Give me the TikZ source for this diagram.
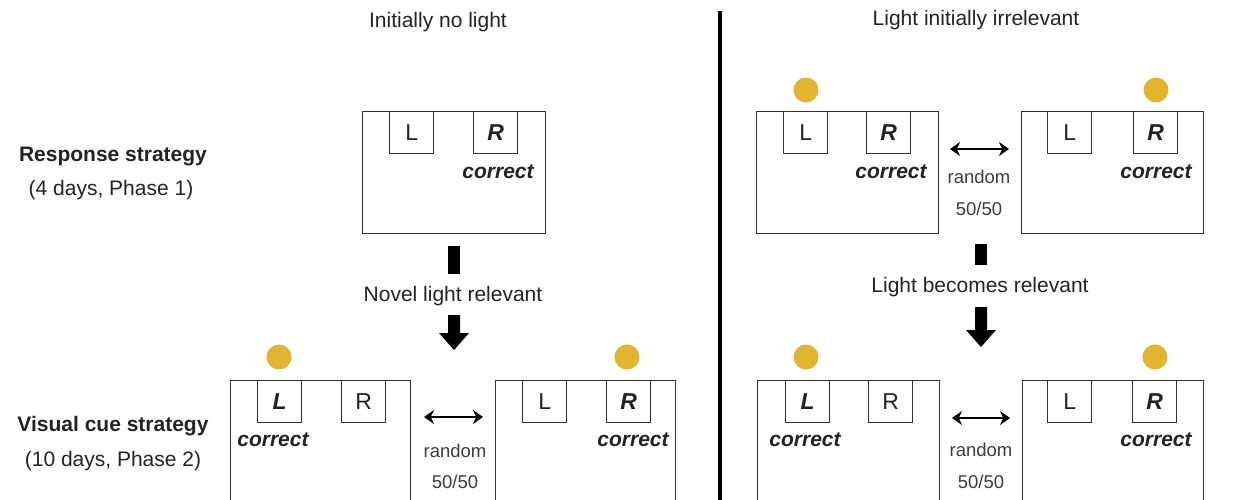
\documentclass[tikz,border=0pt]{standalone}
\usepackage{fontspec}
\setmainfont{Liberation Sans}
\usetikzlibrary{arrows.meta}
\definecolor{lightc}{RGB}{226,180,48}
\definecolor{ink}{RGB}{35,35,35}
\definecolor{rink}{RGB}{60,60,60}
\definecolor{edge}{RGB}{50,50,50}
\begin{document}
\begin{tikzpicture}[x=1pt,y=-1pt,
  arena/.style={draw=edge, line width=1.3pt, minimum width=#1, minimum height=122pt, anchor=north west, inner sep=0},
  arena/.default=182pt,
  door/.style={draw=edge, line width=1.3pt, minimum width=44pt, minimum height=42pt, anchor=north west, inner sep=0, text=ink, font=\fontsize{23}{23}\selectfont},
  doorc/.style={door, font=\fontsize{23}{23}\selectfont\bfseries\itshape},
  lamp/.style={circle, fill=lightc, minimum size=25pt, inner sep=0},
  lbl/.style={font=\fontsize{21}{24}\selectfont, text=ink, inner sep=0},
  bold/.style={font=\fontsize{21}{24}\selectfont\bfseries, text=ink, inner sep=0},
  cor/.style={font=\fontsize{21}{24}\selectfont\bfseries\itshape, text=ink, inner sep=0},
  rnd/.style={font=\fontsize{18.5}{20}\selectfont, text=rink, inner sep=0},
  dbl/.style={{Stealth[length=10pt,width=14pt]}-{Stealth[length=10pt,width=14pt]}, line width=2pt, draw=black},
  blk/.style={fill=black, draw=none}
]
\useasboundingbox (0,0) rectangle (1233,499);
\clip (0,0) rectangle (1233,499);

% titles
\node[lbl] (t1) at (438,22) {Initially no light};
\node[lbl] (t2) at (976,20) {Light initially irrelevant};
\draw[line width=3.5pt] (720,11) coordinate (vtop) -- (720,505) coordinate (vbot);

% row labels
\node[bold] (rs) at (113,156) {Response strategy};
\node[lbl] (rsd) at (111,190) {(4 days, Phase 1)};
\node[bold] (vc) at (113,426) {Visual cue strategy};
\node[lbl] (vcd) at (113,461) {(10 days, Phase 2)};

% ---------- top left ----------
\node[arena=183pt] (A) at (362,111) {};
\node[door] (AL) at (389,111) {L};
\node[doorc] (AR) at (473,111) {R};
\node[cor] (Ac) at (498,172) {correct};

% ---------- top right ----------
\node[arena] (B1) at (756,111) {};
\node[door] (B1L) at (783,111) {L};
\node[doorc] (B1R) at (866,111) {R};
\node[cor] (B1c) at (891,172) {correct};
\node[lamp] (B1l) at (806,90) {};
\node[arena] (B2) at (1021,111) {};
\node[door] (B2L) at (1047,111) {L};
\node[doorc] (B2R) at (1133,111) {R};
\node[cor] (B2c) at (1156,172) {correct};
\node[lamp] (B2l) at (1156,90) {};
\coordinate (Ba) at (950,149);
\coordinate (Bb) at (1009,149);
\draw[dbl] (Ba) -- (Bb);
\node[rnd] (Br) at (979,177) {random};
\node[rnd] (Bf) at (979,209) {50/50};

% ---------- bottom left ----------
\node[arena=180pt, minimum height=150pt] (C1) at (230,380) {};
\node[doorc] (C1L) at (257,380) {L};
\node[door] (C1R) at (341,380) {R};
\node[cor] (C1c) at (273,440) {correct};
\node[lamp] (C1l) at (279,357) {};
\node[arena=180pt, minimum height=150pt] (C2) at (495,380) {};
\node[door] (C2L) at (522,380) {L};
\node[doorc] (C2R) at (606,380) {R};
\node[cor] (C2c) at (633,440) {correct};
\node[lamp] (C2l) at (627,357) {};
\coordinate (Ca) at (424,417);
\coordinate (Cb) at (483,417);
\draw[dbl] (Ca) -- (Cb);
\node[rnd] (Cr) at (455,451) {random};
\node[rnd] (Cf) at (455,482) {50/50};

% ---------- bottom right ----------
\node[arena, minimum height=150pt] (D1) at (757,380) {};
\node[doorc] (D1L) at (785,380) {L};
\node[door] (D1R) at (868,380) {R};
\node[cor] (D1c) at (805,440) {correct};
\node[lamp] (D1l) at (806,357) {};
\node[arena=181pt, minimum height=150pt] (D2) at (1022,380) {};
\node[door] (D2L) at (1047,380) {L};
\node[doorc] (D2R) at (1132,380) {R};
\node[cor] (D2c) at (1156,440) {correct};
\node[lamp] (D2l) at (1155,357) {};
\coordinate (Da) at (952,418);
\coordinate (Db) at (1010,418);
\draw[dbl] (Da) -- (Db);
\node[rnd] (Dr) at (981,450) {random};
\node[rnd] (Df) at (981,482) {50/50};

% ---------- transitions ----------
\node[lbl] (nl) at (453,296) {Novel light relevant};
\fill[blk] (448,246) rectangle (460,274);
\fill[blk] (448,315) -- (460,315) -- (460,333) -- (469,333) -- (454,350) -- (439,333) -- (448,333) -- cycle;

\node[lbl] (lb) at (980,287) {Light becomes relevant};
\fill[blk] (975,244) rectangle (987,265);
\fill[blk] (975,307) -- (987,307) -- (987,330) -- (996,330) -- (981,347) -- (966,330) -- (975,330) -- cycle;
\end{tikzpicture}
\end{document}
